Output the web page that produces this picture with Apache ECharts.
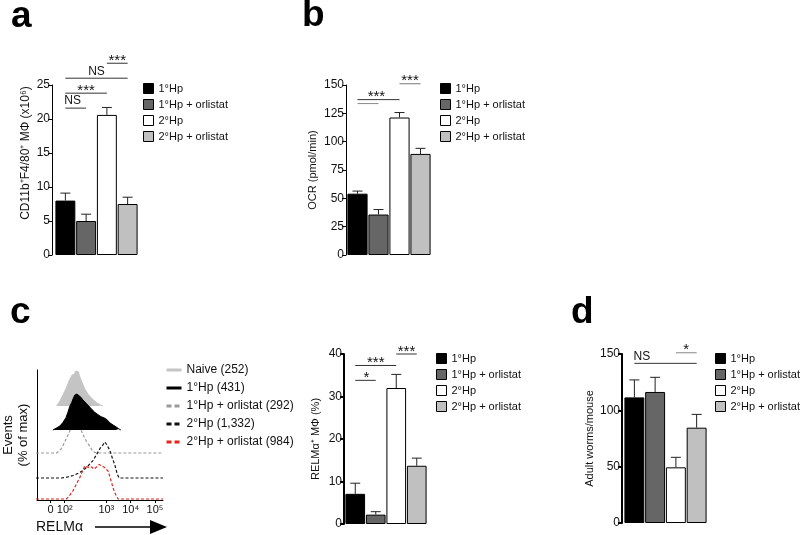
<!DOCTYPE html>
<html><head><meta charset="utf-8">
<script src="https://cdn.jsdelivr.net/npm/echarts@6/dist/echarts.min.js"></script>
<style>html,body{margin:0;padding:0;background:#fff}#c{width:800px;height:535px}</style>
</head><body><div id="c"></div>
<script>
// ---------- data ----------
const groups = ['1°Hp', '1°Hp + orlistat', '2°Hp', '2°Hp + orlistat'];

const aMean = [8.0, 5.0, 20.6, 7.5];
const aSem  = [1.1, 1.0, 1.1, 1.0];
const bMean = [54.1, 35.7, 121.3, 89.2];
const bSem  = [2.3, 4.4, 4.4, 4.9];
const cMean = [7.1, 2.2, 32.0, 13.7];
const cSem  = [2.5, 0.7, 3.2, 1.8];
const dMean = [111.5, 116.3, 49.4, 84.6];
const dSem  = [15.5, 13.0, 8.9, 11.8];

// significance brackets: [from bar, to bar, height (axis units), label, label position along line]
const aSig = [[0, 1, 21.6, 'NS', 0.35], [0, 2, 23.8, '***', 0.5], [0, 3, 26.0, 'NS', 0.5], [2, 3, 28.2, '***', 0.5]];
const bSig = [[0, 1, 133.6, '', 0.5], [0, 2, 137.1, '***', 0.45], [2, 3, 151.1, '***', 0.5]];
const cSig = [[0, 1, 33.8, '*', 0.55], [0, 2, 37.3, '***', 0.5], [2, 3, 40.0, '***', 0.5]];
const dSig = [[0, 3, 141.7, 'NS', 0.12], [2.2, 3, 151.1, '*', 0.5]];

// flow histogram (x: RELMα position in decades on display scale, y: events % of max)
const histTickPos = [0.71, 1.29, 3, 4, 5];
const histTickLabels = ['0', '10²', '10³', '10⁴', '10⁵'];
const histNames = ['Naive (252)', '1°Hp (431)', '1°Hp + orlistat (292)', '2°Hp (1,332)', '2°Hp + orlistat (984)'];
const naiveHist = [[0.99,0],[1.12,13],[1.26,32],[1.40,52],[1.50,70],[1.56,78],[1.62,86],[1.67,91],[1.72,88],[1.76,97],[1.80,100],[1.84,93],[1.88,95],[1.92,84],[2.01,68],[2.08,57],[2.14,47],[2.21,40],[2.28,32],[2.38,24],[2.48,18],[2.58,11],[2.69,6],[2.80,2],[2.88,0]];
const hp1Hist = [[0.84,0],[1.0,6],[1.12,11],[1.24,20],[1.37,34],[1.45,49],[1.53,66],[1.61,77],[1.67,88],[1.73,97],[1.78,93],[1.82,100],[1.86,96],[1.90,97],[1.98,91],[2.06,84],[2.14,80],[2.20,74],[2.27,69],[2.35,63],[2.43,57],[2.49,52],[2.55,49],[2.61,47],[2.67,43],[2.74,40],[2.80,37],[2.86,36],[2.92,34],[2.98,31],[3.04,29],[3.10,24],[3.16,20],[3.22,17],[3.29,14],[3.35,11],[3.41,9],[3.47,6],[3.53,3],[3.61,0]];
const hp1OrlHist = [[0.15,0],[0.99,0],[1.10,6],[1.19,13],[1.26,22],[1.33,32],[1.40,42],[1.46,51],[1.53,61],[1.60,71],[1.69,90],[1.76,97],[1.80,100],[1.88,92],[1.94,75],[2.00,62],[2.07,51],[2.14,41],[2.21,32],[2.28,25],[2.35,18],[2.42,10],[2.48,4],[2.62,0],[5.33,0]];
const hp2Hist = [[0.15,0],[1.19,0],[1.45,3],[1.67,7],[1.87,13],[2.07,21],[2.28,34],[2.48,49],[2.62,65],[2.76,82],[2.87,91],[2.96,100],[3.05,91],[3.16,77],[3.27,54],[3.37,35],[3.46,12],[3.54,0],[5.33,0]];
const hp2OrlHist = [[0.15,0],[1.39,0],[1.53,11],[1.67,24],[1.80,42],[1.94,60],[2.05,78],[2.14,92],[2.21,96],[2.32,87],[2.42,89],[2.51,83],[2.62,89],[2.73,96],[2.82,92],[2.92,89],[3.00,83],[3.09,78],[3.19,56],[3.30,29],[3.41,11],[3.50,0],[5.33,0]];

// ---------- styles / layout ----------
const FONT = 'Arial, "Liberation Sans", Helvetica, sans-serif';
const groupColors = ['#000000', '#666666', '#ffffff', '#c0c0c0'];

const panels = [
  { mean: aMean, sem: aSem, sig: aSig, grid: {left: 55, top: 85, width: 83, height: 170}, max: 25, interval: 5, offset: 3, axisW: 1,
    name: 'CD11b⁺F4/80⁺ MΦ (x10⁶)', nameSize: 12, nameGap: 20, namePad: [0, 0, 0, 34], legend: {left: 143, top: 83}, sigColors: ['#333','#333','#333','#333'] },
  { mean: bMean, sem: bSem, sig: bSig, grid: {left: 347, top: 85, width: 84, height: 170}, max: 150, interval: 25, offset: 1, axisW: 1,
    name: 'OCR (pmol/min)', nameSize: 11, nameGap: 28, namePad: [0, 0, 0, 0], legend: {left: 440, top: 83}, sigColors: ['#888','#333','#777'] },
  { mean: cMean, sem: cSem, sig: cSig, grid: {left: 345, top: 354, width: 82, height: 170}, max: 40, interval: 10, offset: 1, axisW: 2,
    name: 'RELMα⁺ MΦ (%)', nameSize: 11, nameGap: 23, namePad: [0, 0, 0, 0], legend: {left: 436, top: 353}, sigColors: ['#333','#333','#333'] },
  { mean: dMean, sem: dSem, sig: dSig, grid: {left: 624, top: 354, width: 83, height: 169}, max: 150, interval: 50, offset: 2, axisW: 2,
    name: 'Adult worms/mouse', nameSize: 11, nameGap: 27, namePad: [0, 0, 0, 0], legend: {left: 715, top: 353}, sigColors: ['#333','#888'] }
];

const grids = [], xAxes = [], yAxes = [], series = [], legends = [];

panels.forEach((p, pi) => {
  grids.push(Object.assign({containLabel: false}, p.grid));
  xAxes.push({ type: 'category', gridIndex: pi, data: groups, axisLine: {show: false}, axisTick: {show: false}, axisLabel: {show: false} });
  yAxes.push({
    type: 'value', gridIndex: pi, min: 0, max: p.max, interval: p.interval, offset: p.offset,
    axisLine: {show: true, lineStyle: {color: '#000', width: p.axisW}},
    axisTick: {show: true, length: 4, lineStyle: {color: '#000', width: p.axisW}},
    axisLabel: {fontSize: 12, color: '#111', margin: 2, fontFamily: FONT},
    splitLine: {show: false},
    name: p.name, nameLocation: 'middle', nameGap: p.nameGap,
    nameTextStyle: {fontSize: p.nameSize, color: '#111', fontFamily: FONT, padding: p.namePad}
  });
  groups.forEach((g, gi) => {
    series.push({
      type: 'bar', name: g, xAxisIndex: pi, yAxisIndex: pi,
      data: p.mean.map((v, i) => (i === gi ? v : '-')),
      barWidth: '96%', barGap: '-100%',
      itemStyle: {color: groupColors[gi], borderColor: '#000', borderWidth: 1},
      z: 2, animation: false
    });
  });
  series.push({
    type: 'custom', xAxisIndex: pi, yAxisIndex: pi, z: 4, clip: false, animation: false,
    data: p.mean.map((m, i) => [i, m, p.sem[i]]),
    encode: {x: 0, y: 1},
    renderItem: (params, api) => {
      const i = api.value(0), m = api.value(1), s = api.value(2);
      const p0 = api.coord([i, m]), p1 = api.coord([i, m + s]);
      const st = {stroke: '#222', lineWidth: 1};
      return {type: 'group', children: [
        {type: 'line', shape: {x1: p0[0], y1: p0[1], x2: p1[0], y2: p1[1]}, style: st},
        {type: 'line', shape: {x1: p1[0] - 5, y1: p1[1], x2: p1[0] + 5, y2: p1[1]}, style: st}
      ]};
    }
  });
  series.push({
    type: 'custom', xAxisIndex: pi, yAxisIndex: pi, z: 4, clip: false, animation: false,
    data: p.sig.map(s => [s[0], s[2]]),
    encode: {x: 0, y: 1},
    renderItem: (params, api) => {
      const s = p.sig[params.dataIndex];
      const q1 = api.coord([s[0], s[2]]), q2 = api.coord([s[1], s[2]]);
      const isStar = s[3].indexOf('*') >= 0;
      return {type: 'group', children: [
        {type: 'line', shape: {x1: q1[0], y1: q1[1], x2: q2[0], y2: q2[1]}, style: {stroke: p.sigColors[params.dataIndex], lineWidth: 1}},
        {type: 'text', x: q1[0] + (q2[0] - q1[0]) * s[4], y: q1[1] + (isStar ? 5 : -1),
         style: {text: s[3], fontSize: isStar ? 15 : 12, fontFamily: FONT, fill: '#111', align: 'center', verticalAlign: 'bottom'}}
      ]};
    }
  });
  legends.push({
    left: p.legend.left, top: p.legend.top, padding: 0, orient: 'vertical', data: groups, selectedMode: false,
    itemWidth: 10, itemHeight: 10, itemGap: 5, icon: 'rect',
    itemStyle: {borderColor: '#000', borderWidth: 1},
    textStyle: {fontSize: 11, color: '#111', fontFamily: FONT, lineHeight: 10}
  });
});

// histogram axis grid (index 4)
const HX = {left: 36, width: 127};
grids.push({left: HX.left, width: HX.width, top: 370, height: 130});
xAxes.push({
  type: 'value', gridIndex: 4, min: 0.15, max: 5.33,
  axisLine: {show: true, lineStyle: {color: '#000', width: 1}},
  axisTick: {show: true, length: 3, customValues: histTickPos, lineStyle: {color: '#000'}},
  axisLabel: {customValues: histTickPos, fontSize: 11, color: '#111', margin: 4, fontFamily: FONT,
    formatter: v => { const k = histTickPos.findIndex(t => Math.abs(t - v) < 1e-6); return k >= 0 ? histTickLabels[k] : ''; }},
  splitLine: {show: false}
});
yAxes.push({
  type: 'value', gridIndex: 4, min: 0, max: 1,
  axisLine: {show: true, lineStyle: {color: '#000', width: 1}},
  axisTick: {show: false}, axisLabel: {show: false}, splitLine: {show: false},
  name: 'Events\n(% of max)', nameLocation: 'middle', nameGap: 6,
  nameTextStyle: {fontSize: 13, color: '#111', fontFamily: FONT, lineHeight: 15}
});

// one grid per histogram, stacked with offsets
const hists = [naiveHist, hp1Hist, hp1OrlHist, hp2Hist, hp2OrlHist];
const histTops = [370, 394, 417, 442, 463];
const histStyles = [
  {line: {color: '#c4c4c4', width: 1, type: 'solid'}, area: '#c4c4c4', z: 3, dashed: false},
  {line: {color: '#000', width: 1, type: 'solid'}, area: '#000', z: 7, dashed: false},
  {line: {color: '#9a9a9a', width: 1.2, type: [3, 2]}, area: null, z: 4, dashed: true},
  {line: {color: '#111', width: 1.2, type: [3, 2]}, area: null, z: 5, dashed: true},
  {line: {color: '#e3261c', width: 1.2, type: [3, 2]}, area: null, z: 6, dashed: true}
];
hists.forEach((h, k) => {
  const gi = 5 + k;
  grids.push({left: HX.left, width: HX.width, top: histTops[k], height: 36});
  xAxes.push({type: 'value', gridIndex: gi, min: 0.15, max: 5.33, show: false});
  yAxes.push({type: 'value', gridIndex: gi, min: 0, max: 100, show: false});
  const st = histStyles[k];
  const s = {
    type: 'line', name: histNames[k], xAxisIndex: gi, yAxisIndex: gi, data: h,
    symbol: 'none', showSymbol: false, lineStyle: st.line, itemStyle: {color: st.line.color},
    z: st.z, animation: false, clip: false
  };
  if (st.area) s.areaStyle = {color: st.area, opacity: 1};
  series.push(s);
});
legends.push({
  left: 165, top: 364, padding: 0, orient: 'vertical', selectedMode: false,
  data: histNames.map((n, k) => ({name: n, lineStyle: histStyles[k].dashed ? {width: 3, type: [5, 3]} : {width: 3, type: 'solid'}})),
  itemWidth: 15, itemHeight: 12, itemGap: 6,
  itemStyle: {opacity: 0},
  lineStyle: {width: 3},
  textStyle: {fontSize: 12, color: '#111', fontFamily: FONT, lineHeight: 12}
});

const panelLabel = (t, x, y) => ({type: 'text', left: x, top: y, style: {text: t, fontSize: 37, fontWeight: 'bold', fontFamily: FONT, fill: '#000'}});

const option = {
  backgroundColor: '#fff',
  animation: false,
  textStyle: {fontFamily: FONT},
  grid: grids, xAxis: xAxes, yAxis: yAxes, series: series, legend: legends,
  graphic: [
    panelLabel('a', 11, -2),
    panelLabel('b', 302, -3),
    panelLabel('c', 10, 294),
    panelLabel('d', 571, 294),
    {type: 'text', left: 36, top: 520, style: {text: 'RELMα', fontSize: 14, fontFamily: FONT, fill: '#111'}},
    {type: 'line', shape: {x1: 95, y1: 527, x2: 152, y2: 527}, style: {stroke: '#000', lineWidth: 1.5}},
    {type: 'polygon', shape: {points: [[150, 520], [167, 527], [150, 534]]}, style: {fill: '#000'}}
  ]
};

const chart = echarts.init(document.getElementById('c'), null, {renderer: 'canvas'});
chart.setOption(option);
</script>
</body></html>
